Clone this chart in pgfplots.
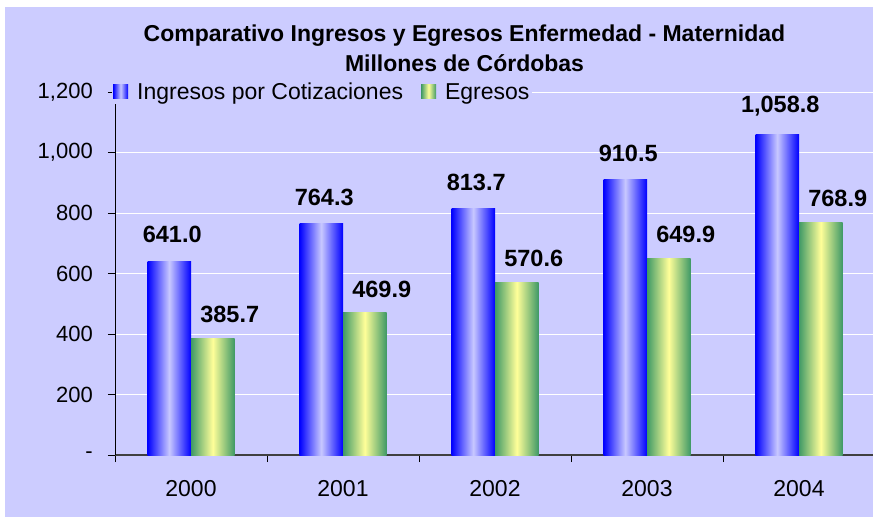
\documentclass[border=0pt]{standalone}
\usepackage{fontspec}
\setmainfont{Liberation Sans}
\usepackage{pgfplots}
\pgfplotsset{compat=1.18}
\definecolor{lav}{HTML}{CCCCFF}
\definecolor{bblue}{HTML}{0000FF}
\definecolor{blight}{HTML}{C8C8FF}
\definecolor{ggreen}{HTML}{3F9966}
\definecolor{yyel}{HTML}{FFFF99}
\definecolor{axgray}{HTML}{404040}
\pgfplotsset{
  ingbar/.style={ybar, bar shift=-21.75pt, draw=none, left color=bblue, right color=bblue, middle color=blight,
    nodes near coords style={yshift=18pt, xshift=-18.75pt}},
  egrbar/.style={ybar, bar shift=21.75pt, draw=none, left color=ggreen, right color=ggreen, middle color=yyel,
    nodes near coords style={yshift=15pt, xshift=38.75pt}},
}
\begin{document}
\begin{tikzpicture}[x=1pt,y=1pt]
\useasboundingbox (0,0) rectangle (873,517);
\fill[white] (0,0) rectangle (873,517);
\fill[lav] (5,0) rectangle (873,510);
\clip (0,0) rectangle (873,517);
\node[font=\fontsize{23}{27}\selectfont\bfseries] at (464.5,481) {Comparativo Ingresos y Egresos Enfermedad - Maternidad};
\node[font=\fontsize{23}{27}\selectfont\bfseries] at (464.5,454) {Millones de Córdobas};
\begin{axis}[
  at={(115pt,62pt)}, anchor=south west,
  scale only axis, width=760pt, height=363pt,
  xmin=-0.5, xmax=4.5, ymin=0, ymax=1200,
  axis x line*=bottom, axis y line*=left,
  x axis line style={-, draw=axgray, line width=1.2pt},
  y axis line style={-, draw=black, line width=0.8pt},
  ytick={0,200,...,1200},
  yticklabels={-,200,400,600,800,{1,000},{1,200}},
  yticklabel style={font=\fontsize{22}{26}\selectfont, anchor=east, inner sep=0pt, xshift=-15pt},
  ymajorgrids, grid style={white, line width=0.8pt},
  xtick={-0.5,0.5,1.5,2.5,3.5,4.5}, xticklabels={},
  extra x ticks={0,1,2,3,4},
  extra x tick labels={2000,2001,2002,2003,2004},
  extra x tick style={grid=none, major tick length=0pt,
     xticklabel style={font=\fontsize{23}{27}\selectfont, anchor=north, inner sep=0pt, yshift=-25pt}},
  tick align=outside, major tick length=7pt,
  tick style={black, line width=0.8pt},
  bar width=43.5pt,
  /pgf/number format/assume math mode=true,
  nodes near coords={\pgfmathprintnumber[fixed,fixed zerofill,precision=1,1000 sep={,}]{\pgfplotspointmeta}},
  nodes near coords style={font=\fontsize{23.5}{28}\selectfont\bfseries, anchor=south, inner sep=0pt},
  legend style={at={(rel axis cs:0,1)}, anchor=west, xshift=-3pt, draw=none, fill=lav,
     inner sep=1pt, font=\fontsize{23}{27}\selectfont,
     /tikz/every odd column/.append style={column sep=7pt},
     /tikz/every even column/.append style={column sep=16pt}},
  legend columns=2,
  legend image code/.code={\fill[#1] (0pt,-7pt) rectangle (15pt,7pt);},
]
\addplot[ingbar] coordinates {(0,641.0)};
\addplot[egrbar] coordinates {(0,385.7)};
\addplot[ingbar, forget plot] coordinates {(1,764.3)};
\addplot[ingbar, forget plot] coordinates {(2,813.7)};
\addplot[ingbar, forget plot] coordinates {(3,910.5)};
\addplot[ingbar, forget plot] coordinates {(4,1058.8)};
\addplot[egrbar, forget plot] coordinates {(1,469.9)};
\addplot[egrbar, forget plot] coordinates {(2,570.6)};
\addplot[egrbar, forget plot] coordinates {(3,649.9)};
\addplot[egrbar, forget plot] coordinates {(4,768.9)};
\legend{Ingresos por Cotizaciones, Egresos}
\end{axis}
\end{tikzpicture}
\end{document}
